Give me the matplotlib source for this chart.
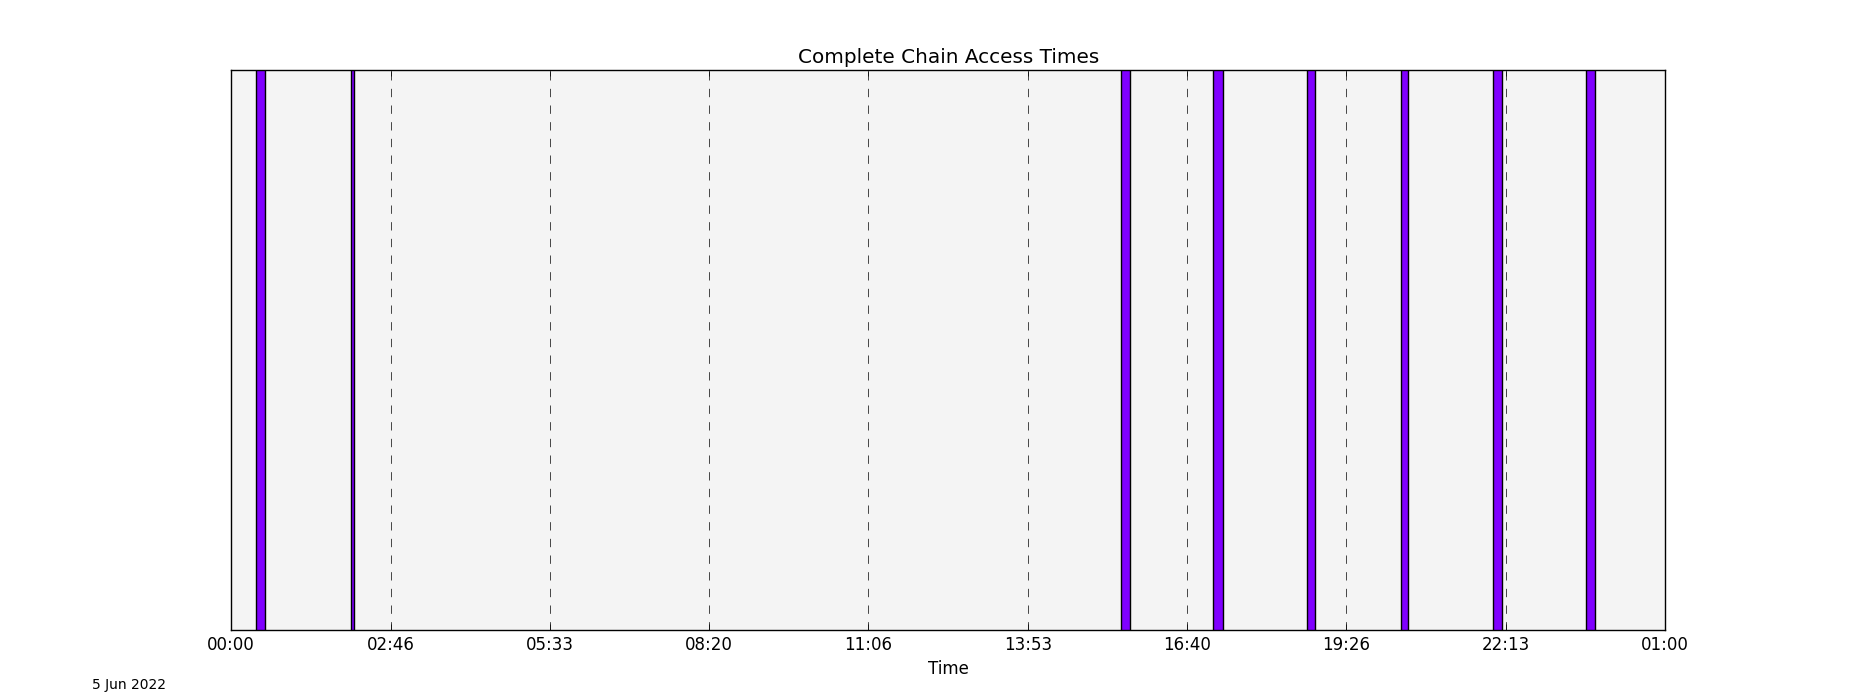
import datetime as dt
import numpy as np
import matplotlib
matplotlib.use('Agg')
import matplotlib.pyplot as plt
import matplotlib.dates as mdates

plt.style.use('classic')

day = '2022-06-05'
# access windows (start, end)
starts = ['00:25:40', '02:04:50', '15:31:10', '17:06:40', '18:45:00', '20:23:20', '21:59:40', '23:37:20']
ends = ['00:35:40', '02:08:10', '15:40:20', '17:17:40', '18:54:20', '20:31:30', '22:09:30', '23:46:50']

t0 = dt.datetime(2022, 6, 5, 0, 0)
t1 = dt.datetime(2022, 6, 6, 1, 0)

start_dt = [dt.datetime.fromisoformat(day + 'T' + s) for s in starts]
end_dt = [dt.datetime.fromisoformat(day + 'T' + e) for e in ends]
x0 = mdates.date2num(start_dt)
widths = mdates.date2num(end_dt) - x0

fig = plt.figure(figsize=(18.5, 7), dpi=100, facecolor='white')
ax = fig.add_subplot(111)
ax.set_facecolor('#f4f4f4')

ax.bar(x0, np.ones(len(x0)), width=widths, align='edge',
       color='#8000ff', edgecolor='black', linewidth=1.0, zorder=3)

ax.set_xlim(mdates.date2num(t0), mdates.date2num(t1))
ax.set_ylim(0, 1)
ax.set_xticks(np.linspace(mdates.date2num(t0), mdates.date2num(t1), 10))
ax.xaxis.set_major_formatter(mdates.DateFormatter('%H:%M'))
ax.set_yticks([])
ax.grid(True, axis='x', linestyle='--', color='black', linewidth=0.5)

ax.set_title('Complete Chain Access Times')
ax.set_xlabel('Time')
fig.text(0.05, 0.015, '5 Jun 2022', fontsize=10)

fig.savefig('out.png', dpi=100, facecolor='white')
